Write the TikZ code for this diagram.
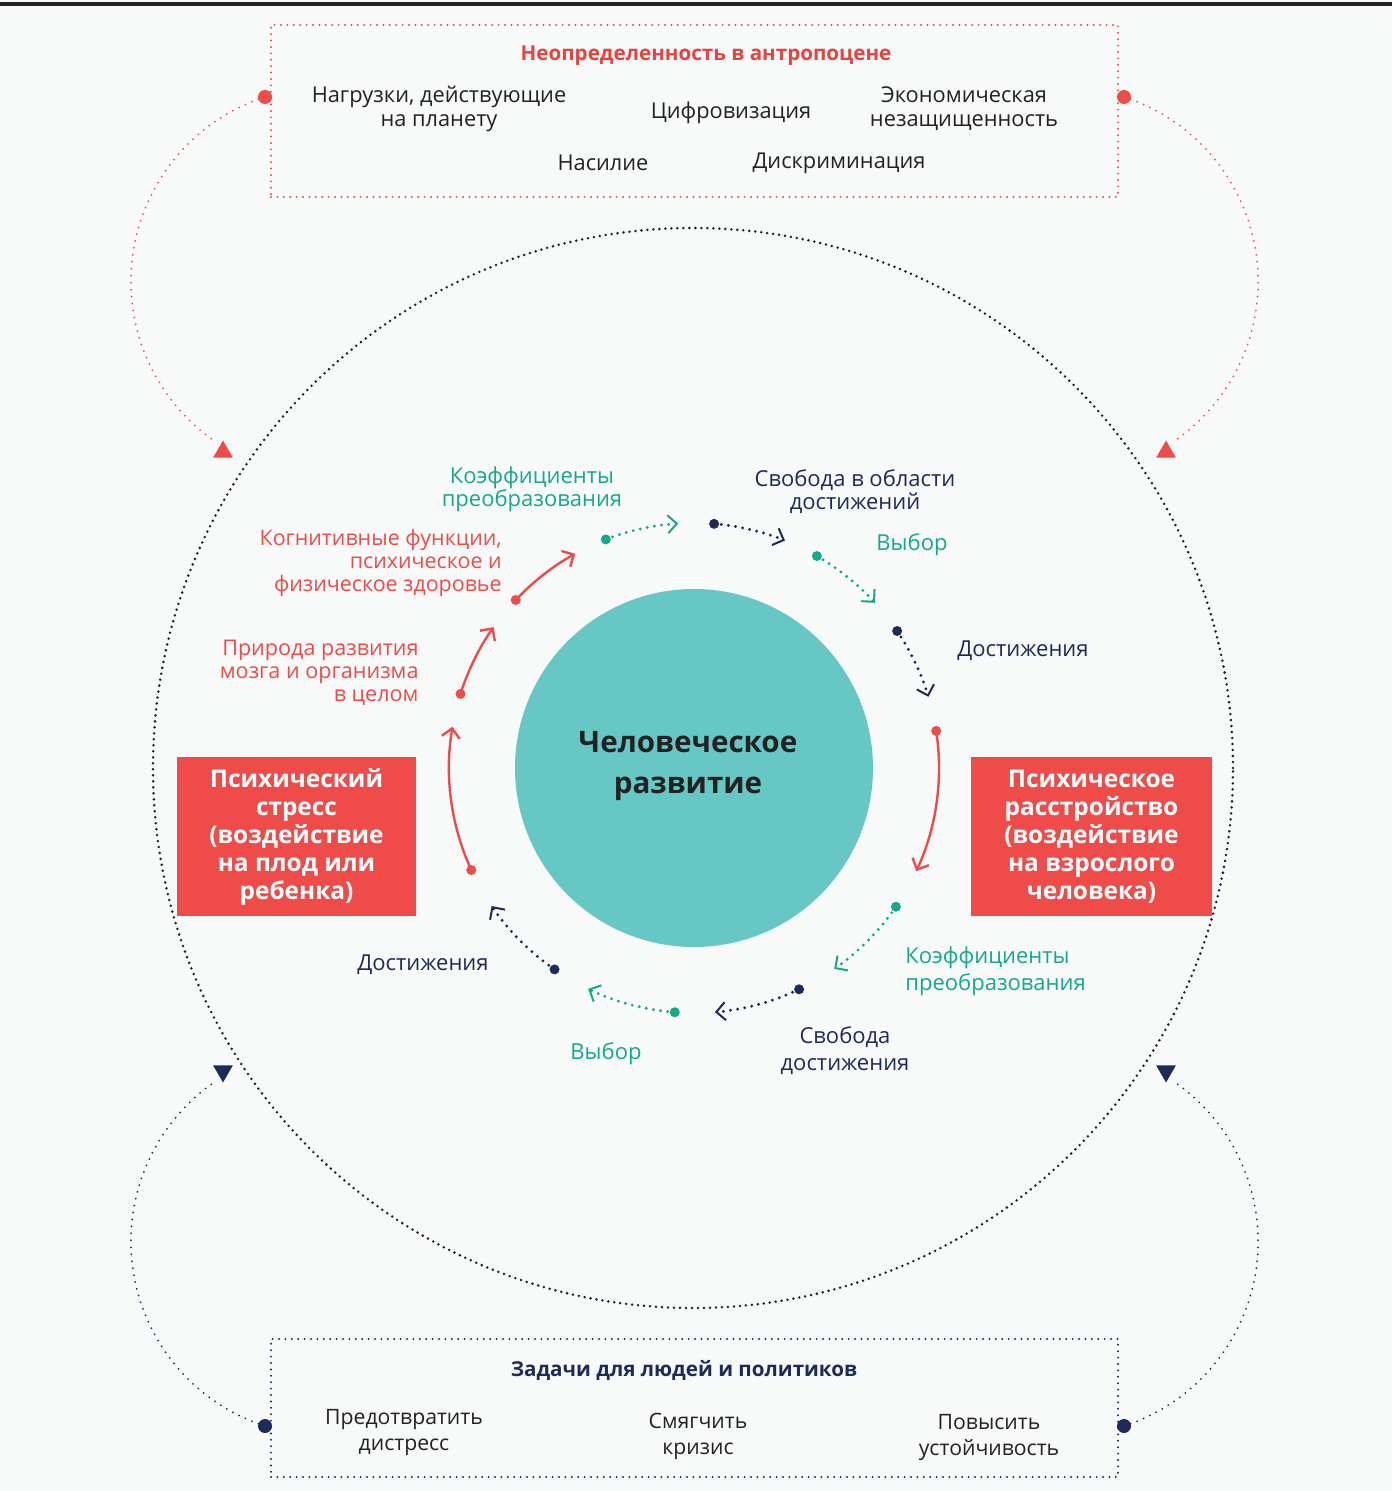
\documentclass[tikz,border=0pt]{standalone}
\usepackage{fontspec}
\setmainfont{Open Sans}
\usetikzlibrary{arrows.meta,shapes.geometric}
\definecolor{myred}{HTML}{EF4B48}
\definecolor{titred}{HTML}{E9423E}
\definecolor{tealfill}{HTML}{66C7C5}
\definecolor{tealtxt}{HTML}{13A98A}
\definecolor{navy}{HTML}{1F2A5C}
\definecolor{ink}{HTML}{222222}
\definecolor{bg}{HTML}{F8FAFA}
\begin{document}
\begin{tikzpicture}[x=0.5pt,y=0.5pt,
  txt/.style={font=\fontsize{10.9}{12}\selectfont, text=ink, align=center, inner sep=0pt},
  btxt/.style={font=\fontsize{10.6}{13}\selectfont, text=ink, align=center, inner sep=0pt},
  lbl/.style={font=\fontsize{11}{11.5}\selectfont, text=#1, align=center, inner sep=0pt},
  lblw/.style={font=\fontsize{11}{13.5}\selectfont, text=#1, align=center, inner sep=0pt},
  ttl/.style={font=\bfseries\fontsize{10.3}{12}\selectfont, text=#1, inner sep=0pt},
  redbox/.style={fill=myred, text=white, font=\bfseries\fontsize{12.2}{14}\selectfont, align=center, inner sep=0pt},
  dotframe/.style={draw=#1, line width=1.1pt, line cap=round, dash pattern=on 0pt off 3.2pt, inner sep=0pt},
  outerarc/.style={draw=#1, line width=1pt, line cap=round, dash pattern=on 0pt off 3.5pt},
  bigdot/.style={circle, fill=#1, inner sep=0pt, minimum size=7pt},
  smalldot/.style={circle, fill=#1, inner sep=0pt, minimum size=5pt},
  solidarc/.style={draw=#1, line width=1.2pt, -{Straight Barb[length=4.5pt,width=9pt]}},
  dotarc/.style={draw=#1, line width=1.6pt, line cap=round, dash pattern=on 0pt off 3.6pt, -{Straight Barb[length=4.5pt,width=9pt,line width=1pt]}},
  triup/.style={regular polygon, regular polygon sides=3, fill=#1, inner sep=0pt, minimum size=11.5pt},
  tridown/.style={regular polygon, regular polygon sides=3, shape border rotate=180, fill=#1, inner sep=0pt, minimum size=11.5pt}
]
\useasboundingbox (0,0) rectangle (1392,-1491);
\fill[bg] (0,0) rectangle (1392,-1491);
\draw[ink, line width=1.6pt] (0,-4) -- (1392,-4);

% outer dotted circle
\node[circle, draw=ink, line width=1.4pt, line cap=round, dash pattern=on 0pt off 3pt, minimum size=540pt, inner sep=0pt] (outer) at (693,-768) {};

% top box
\node[dotframe=myred, minimum width=423.5pt, minimum height=86pt] (topbox) at (694.5,-111) {};
\node[ttl=titred] (toptitle) at (706,-56) {Неопределенность в антропоцене};
\node[txt] (t1) at (439,-109) {Нагрузки, действующие\\на планету};
\node[txt] (t2) at (731,-113) {Цифровизация};
\node[txt] (t3) at (964,-109) {Экономическая\\незащищенность};
\node[txt] (t4) at (603,-163) {Насилие};
\node[txt] (t5) at (839,-163) {Дискриминация};

% bottom box
\node[dotframe=navy, minimum width=423.5pt, minimum height=69pt] (botbox) at (694.5,-1408) {};
\node[ttl=navy] (bottitle) at (684,-1370) {Задачи для людей и политиков};
\node[btxt] (b1) at (404,-1432) {Предотвратить\\дистресс};
\node[btxt] (b2) at (698,-1436) {Смягчить\\кризис};
\node[btxt] (b3) at (989,-1437) {Повысить\\устойчивость};

% side dots and triangles
\node[bigdot=myred] (dtl) at (265,-97) {};
\node[bigdot=myred] (dtr) at (1124,-97) {};
\node[bigdot=navy] (dbl) at (265,-1426) {};
\node[bigdot=navy] (dbr) at (1124,-1426) {};
\node[triup=myred] (ttl) at (223,-452) {};
\node[triup=myred] (ttr) at (1166,-452) {};
\node[tridown=navy] (tbl) at (223,-1071) {};
\node[tridown=navy] (tbr) at (1166,-1071) {};
\draw[outerarc=myred] (dtl.center) arc[start angle=108, end angle=236, radius=194];
\draw[outerarc=myred] (dtr.center) arc[start angle=72, end angle=-56, radius=194];
\draw[outerarc=navy] (dbl.center) arc[start angle=-108, end angle=-236, radius=194];
\draw[outerarc=navy] (dbr.center) arc[start angle=-72, end angle=56, radius=194];

% centre
\node[circle, fill=tealfill, minimum size=179pt, inner sep=0pt] (hd) at (694,-768) {};
\node[text=ink, font=\bfseries\fontsize{14.8}{20.5}\selectfont, align=center, inner sep=0pt] (hdtext) at (688,-766) {Человеческое\\развитие};

% red boxes
\node[redbox, minimum width=119.5pt, minimum height=79.5pt] (lb) at (296.5,-836.5)
  {Психический\\стресс\\(воздействие\\на плод или\\ребенка)};
\node[redbox, minimum width=120.5pt, minimum height=79.5pt] (rb) at (1091.5,-836.5)
  {Психическое\\расстройство\\(воздействие\\на взрослого\\человека)};

% inner cycle
\begin{scope}[shift={(694,-768)}]
\foreach \i/\a/\b/\c/\st/\ds in {
  1/204.6/170.3/myred/solidarc/bigdot,
  2/162.4/144.9/myred/solidarc/bigdot,
  3/136.7/119.0/myred/solidarc/bigdot,
  4/111.1/93.7/tealtxt/dotarc/smalldot,
  5/85.3/68.2/navy/dotarc/smalldot,
  6/59.9/42.4/tealtxt/dotarc/smalldot,
  7/34.0/16.9/navy/dotarc/smalldot,
  8/8.7/-24.9/myred/solidarc/bigdot,
  9/-34.5/-55.1/tealtxt/dotarc/smalldot,
  10/-64.6/-85.1/navy/dotarc/smalldot,
  11/-94.5/-115.6/tealtxt/dotarc/smalldot,
  12/-124.7/-145.7/navy/dotarc/smalldot}{
  \node[\ds=\c, minimum size=5pt] (s\i) at (\a:245) {};
  \draw[\st=\c] (s\i.center) arc[start angle=\a, end angle=\b, radius=245];
}
\end{scope}

% inner labels
\node[lbl=tealtxt] (l1) at (532,-489) {Коэффициенты\\преобразования};
\node[lbl=navy] (l2) at (855,-492) {Свобода в области\\достижений};
\node[lbl=tealtxt] (l3) at (912,-545) {Выбор};
\node[lbl=navy] (l4) at (1023,-651) {Достижения};
\node[lbl=myred, align=right, anchor=east, font=\fontsize{10.7}{11.5}\selectfont] (l5) at (502,-563) {Когнитивные функции,\\психическое и\\физическое здоровье};
\node[lbl=myred, align=right, anchor=east, font=\fontsize{10.8}{11.5}\selectfont] (l6) at (419,-673) {Природа развития\\мозга и организма\\в целом};
\node[lbl=navy] (l7) at (423,-965) {Достижения};
\node[lbl=tealtxt] (l8) at (606,-1054) {Выбор};
\node[lblw=navy] (l9) at (845,-1051) {Свобода\\достижения};
\node[lblw=tealtxt, align=left, anchor=west] (l10) at (905,-971) {Коэффициенты\\преобразования};
\end{tikzpicture}
\end{document}
